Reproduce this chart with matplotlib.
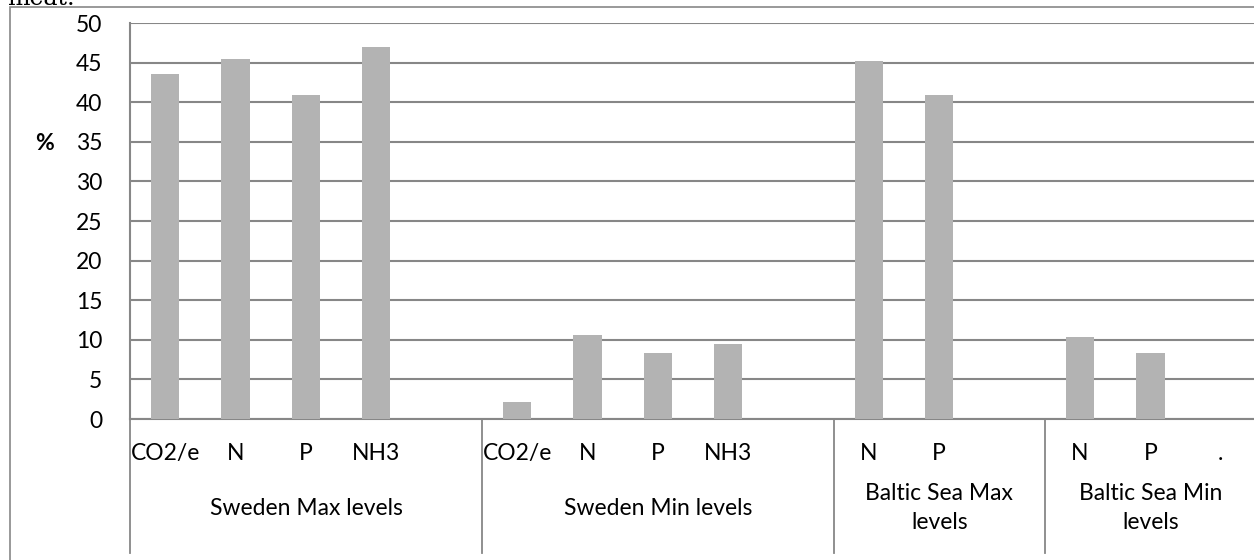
import matplotlib.pyplot as plt
from matplotlib.patches import Rectangle

# share of emissions per substance, grouped by scenario
groups = ["Sweden Max levels", "Sweden Min levels", "Baltic Sea Max\nlevels", "Baltic Sea Min\nlevels"]
group_labels = [
    ["CO2/e", "N", "P", "NH3", ""],
    ["CO2/e", "N", "P", "NH3", ""],
    ["N", "P", ""],
    ["N", "P", "."],
]
group_values = [
    [43.5, 45.5, 40.9, 47.0, None],
    [2.1, 10.6, 8.3, 9.5, None],
    [45.2, 40.9, None],
    [10.4, 8.3, None],
]
yticks = list(range(0, 55, 5))

plt.rcParams["font.family"] = ["Lato", "DejaVu Sans"]
GRID = "#878787"
BAR = "#b3b3b3"
FS = 16.5

W, H = 1254, 560
fig = plt.figure(figsize=(W / 100, H / 100), dpi=100)

# outer chart frame and the tail of the text above it
fig.patches.append(Rectangle((10 / W, -0.1), 1.1, 1.1 - 7 / H, transform=fig.transFigure,
                             fill=False, edgecolor=GRID, linewidth=1.2))
fig.text(7 / W, 1 - 5 / H, "meat.", family="DejaVu Serif", fontsize=17, va="baseline")

ax = fig.add_axes([130 / W, (H - 419) / H, 1126 / W, 396 / H])

n_slots = sum(len(g) for g in group_labels)
pos = 0
starts = []
for labels, vals in zip(group_labels, group_values):
    starts.append(pos)
    for lab, v in zip(labels, vals):
        if v is not None:
            ax.bar(pos + 0.5, v, width=0.4, color=BAR, zorder=3)
        ax.text(pos + 0.5, -0.086, lab, transform=ax.get_xaxis_transform(),
                ha="center", va="center", fontsize=FS, clip_on=False)
        pos += 1
starts.append(pos)

for i, name in enumerate(groups):
    mid = (starts[i] + starts[i + 1]) / 2
    ax.text(mid, -0.225, name, transform=ax.get_xaxis_transform(), ha="center", va="center",
            fontsize=FS, linespacing=1.5, clip_on=False)

# vertical dividers between category groups
for s in starts[:-1]:
    ax.plot([s, s], [0, -0.338], transform=ax.get_xaxis_transform(), color=GRID,
            linewidth=1.3, clip_on=False)

ax.set_xlim(0, n_slots)
ax.set_ylim(0, 50)
ax.set_xticks([])
ax.set_yticks(yticks)
ax.tick_params(axis="y", length=0, pad=20, labelsize=FS)
ax.yaxis.grid(True, color=GRID, linewidth=1.5, zorder=0)
ax.set_axisbelow(True)
for side in ["top", "right"]:
    ax.spines[side].set_visible(False)
for side in ["left", "bottom"]:
    ax.spines[side].set_color(GRID)
    ax.spines[side].set_linewidth(1.5)

fig.text(45 / W, 1 - 143 / H, "%", fontsize=FS, fontweight="bold", ha="center", va="center")

fig.savefig("out.png", dpi=100)
